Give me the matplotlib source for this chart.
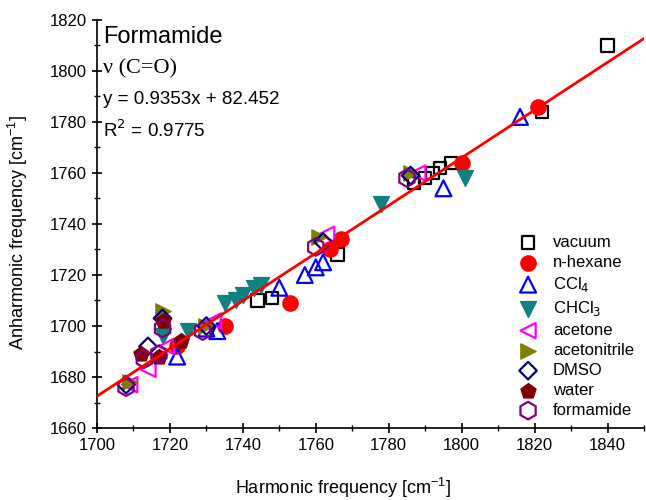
import matplotlib.pyplot as plt
from matplotlib.ticker import MultipleLocator
import numpy as np

plt.rcParams['font.family'] = ['Liberation Sans', 'DejaVu Sans']

# harmonic / anharmonic C=O frequencies per solvent
vacuum_x = [1744, 1748, 1766, 1787, 1790, 1792, 1794, 1797, 1822, 1840]
vacuum_y = [1710, 1711, 1728, 1756, 1758, 1760, 1762, 1764, 1784, 1810]
hexane_x = [1722, 1735, 1753, 1764, 1767, 1800, 1821]
hexane_y = [1692, 1700, 1709, 1730, 1734, 1764, 1786]
ccl4_x = [1722, 1730, 1733, 1750, 1757, 1760, 1762, 1795, 1816]
ccl4_y = [1688, 1699, 1698, 1715, 1720, 1723, 1725, 1754, 1782]
chcl3_x = [1718, 1725, 1735, 1738, 1740, 1743, 1745, 1778, 1801]
chcl3_y = [1696, 1698, 1709, 1710, 1712, 1715, 1716, 1748, 1758]
acetone_x = [1709, 1714, 1719, 1732, 1763, 1788]
acetone_y = [1677, 1683, 1692, 1702, 1736, 1760]
acn_x = [1709, 1718, 1730, 1761, 1786]
acn_y = [1678, 1706, 1700, 1735, 1760]
dmso_x = [1708, 1714, 1718, 1730, 1762, 1786]
dmso_y = [1677, 1692, 1703, 1700, 1733, 1759]
water_x = [1712, 1717, 1718, 1723]
water_y = [1689, 1688, 1702, 1694]
formamide_x = [1708, 1713, 1717, 1718, 1729, 1760, 1785]
formamide_y = [1676, 1687, 1689, 1699, 1698, 1731, 1758]

slope, intercept = 0.9353, 82.452

fig = plt.figure(figsize=(6.46, 5.0), dpi=100)
ax = fig.add_axes([0.150, 0.144, 0.847, 0.816])

lw = 1.6
ax.scatter(vacuum_x, vacuum_y, marker='s', s=80, facecolors='none', edgecolors='black', linewidths=lw, label='vacuum', zorder=3)
ax.scatter(hexane_x, hexane_y, marker='o', s=120, color='red', label='n-hexane', zorder=3)
ax.scatter(ccl4_x, ccl4_y, marker='^', s=130, facecolors='none', edgecolors='blue', linewidths=lw, label='CCl$_4$', zorder=3)
ax.scatter(chcl3_x, chcl3_y, marker='v', s=130, color='#108080', label='CHCl$_3$', zorder=3)
ax.scatter(acetone_x, acetone_y, marker='<', s=120, facecolors='none', edgecolors='magenta', linewidths=lw, label='acetone', zorder=3)
ax.scatter(acn_x, acn_y, marker='>', s=120, color='#808000', label='acetonitrile', zorder=3)
ax.scatter(dmso_x, dmso_y, marker='D', s=80, facecolors='none', edgecolors='#000080', linewidths=lw, label='DMSO', zorder=3)
ax.scatter(water_x, water_y, marker='p', s=130, color='#800000', label='water', zorder=3)
ax.scatter(formamide_x, formamide_y, marker='h', s=160, facecolors='none', edgecolors='#800080', linewidths=lw, label='formamide', zorder=3)

xs = np.array([1700, 1850])
ax.plot(xs, slope * xs + intercept, color='red', lw=2, zorder=4)

ax.set_xlim(1700, 1850)
ax.set_ylim(1660, 1820)
ax.xaxis.set_major_locator(MultipleLocator(20))
ax.xaxis.set_minor_locator(MultipleLocator(10))
ax.yaxis.set_major_locator(MultipleLocator(20))
ax.yaxis.set_minor_locator(MultipleLocator(10))
ax.tick_params(which='both', direction='inout', labelsize=12)
ax.tick_params(which='major', length=7, width=1.2)
ax.tick_params(which='minor', length=4, width=1.0)
ax.spines['top'].set_visible(False)
ax.spines['right'].set_visible(False)
ax.spines['left'].set_linewidth(1.2)
ax.spines['bottom'].set_linewidth(1.2)

ax.set_xlabel(r'Harmonic frequency [cm$^{\mathregular{-1}}$]', fontsize=13)
ax.set_ylabel(r'Anharmonic frequency [cm$^{\mathregular{-1}}$]', fontsize=13)
ax.xaxis.set_label_coords(0.45, -0.118)
ax.yaxis.set_label_coords(-0.122, 0.48)

ax.text(0.012, 0.985, 'Formamide', transform=ax.transAxes, fontsize=17, va='top')
ax.text(0.012, 0.905, 'ν (C=O)', transform=ax.transAxes, fontsize=16, va='top', family='Liberation Serif')
ax.text(0.012, 0.825, 'y = 0.9353x + 82.452', transform=ax.transAxes, fontsize=13.5, va='top')
ax.text(0.012, 0.755, 'R$^2$ = 0.9775', transform=ax.transAxes, fontsize=13.5, va='top')

ax.legend(loc='lower right', bbox_to_anchor=(1.0, 0.0), frameon=False, fontsize=12,
          handletextpad=0.5, labelspacing=0.3, borderaxespad=0.2)

fig.savefig('out.png', dpi=100)
